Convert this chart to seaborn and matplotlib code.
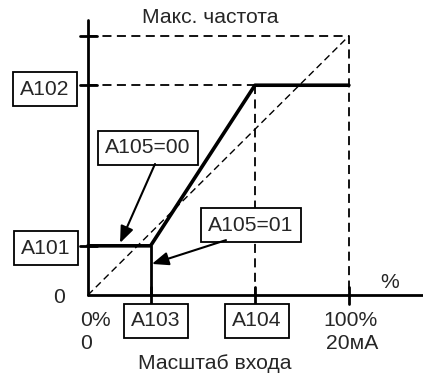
import seaborn as sns
import matplotlib.pyplot as plt
import numpy as np

# parameter values (% of full scale)
a101 = 19      # start frequency
a102 = 81      # end frequency
a103 = 24      # start of active input
a104 = 64      # end of active input
full = 100

curve_x = [0, a103, a104, full]
curve_y = [a101, a101, a102, a102]

sns.set_style('white')
plt.rcParams['font.family'] = ['Liberation Sans', 'DejaVu Sans']

fig = plt.figure(figsize=(4.23, 3.73), dpi=100)
ax = fig.add_axes([0, 0, 1, 1])
ax.set_xlim(-33.7, 128.4)
ax.set_ylim(-30.1, 113.9)
ax.axis('off')

fs = 15.2

# axes lines
ax.plot([0, 0], [0, 106], color='black', lw=2)
ax.plot([0, 128.4], [0, 0], color='black', lw=2)

# ticks
for yv in [full, a102, a101]:
    ax.plot([-3.1, 3.4], [yv, yv], color='black', lw=2)
for xv in [a103, a104, full]:
    ax.plot([xv, xv], [3.1, -3.5], color='black', lw=2)

# dashed guides
ax.plot([0, full], [0, full], color='black', lw=1, ls=(0, (5, 3)))
ax.plot([0, full, full], [full, full, 0], color='black', lw=1.3, ls=(0, (5, 3)))
ax.plot([0, a104], [a102, a102], color='black', lw=1.3, ls=(0, (5, 3)))
ax.plot([a104, a104], [a102, 0], color='black', lw=1.3, ls=(0, (5, 3)))

# characteristic
sns.lineplot(x=curve_x, y=curve_y, ax=ax, color='black', lw=2.6, sort=False)
ax.plot([a103, a103], [a101, 0], color='black', lw=2)

box = dict(boxstyle='square,pad=0.35', fc='white', ec='black', lw=1.3)
ax.text(-16.5, 79.5, 'A102', fontsize=fs, ha='center', va='center', bbox=box)
ax.text(-16.1, 18.1, 'A101', fontsize=fs, ha='center', va='center', bbox=box)
ax.text(26.1, -10.0, 'A103', fontsize=fs, ha='center', va='center', bbox=box)
ax.text(64.8, -10.0, 'A104', fontsize=fs, ha='center', va='center', bbox=box)
ax.text(23.0, 56.8, 'A105=00', fontsize=fs, ha='center', va='center', bbox=box)
ax.text(62.5, 27.0, 'A105=01', fontsize=fs, ha='center', va='center', bbox=box)

arrow = dict(arrowstyle='-|>,head_length=0.5,head_width=0.2', color='black', lw=1.5,
             mutation_scale=20, shrinkA=0, shrinkB=0)
ax.annotate('', xy=(12.3, 20.1), xytext=(25.7, 50.6), arrowprops=arrow)
ax.annotate('', xy=(24.5, 12.0), xytext=(52.9, 21.2), arrowprops=arrow)

ax.text(46.7, 107, 'Макс. частота', fontsize=fs, ha='center', va='center')
ax.text(115.7, 5.0, '%', fontsize=fs, ha='center', va='center')
ax.text(-11.1, -0.8, '0', fontsize=fs, ha='center', va='center')
ax.text(-3.1, -10.0, '0%', fontsize=fs, ha='left', va='center')
ax.text(-3.1, -18.9, '0', fontsize=fs, ha='left', va='center')
ax.text(100.8, -10.0, '100%', fontsize=fs, ha='center', va='center')
ax.text(101.1, -18.9, '20мA', fontsize=fs, ha='center', va='center')
ax.text(48.7, -26.3, 'Масштаб входа', fontsize=fs, ha='center', va='center')

fig.savefig('out.png', dpi=100)
